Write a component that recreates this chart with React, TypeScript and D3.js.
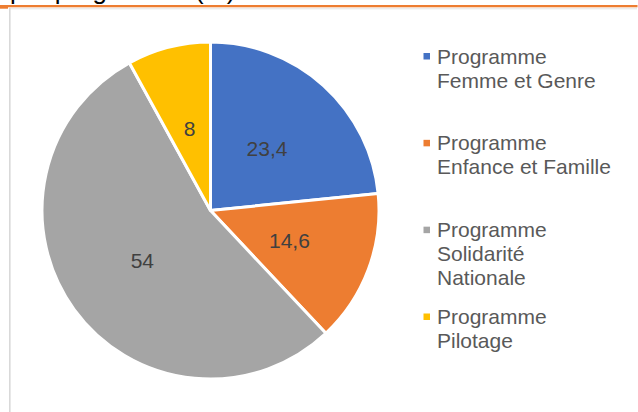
import React from "react";
import * as d3 from "d3";

const programmes = [
  "Programme Femme et Genre",
  "Programme Enfance et Famille",
  "Programme Solidarité Nationale",
  "Programme Pilotage",
];
const legendLines = [
  ["Programme", "Femme et Genre"],
  ["Programme", "Enfance et Famille"],
  ["Programme", "Solidarité", "Nationale"],
  ["Programme", "Pilotage"],
];
const shares = [23.4, 14.6, 54, 8];
const shareLabels = ["23,4", "14,6", "54", "8"];
const colors = ["#4472C4", "#ED7D31", "#A5A5A5", "#FFC000"];

const W = 638;
const H = 412;
const cx = 210.5;
const cy = 210.5;
const R = 168.5;
const font = "'Liberation Sans', Arial, sans-serif";

export default function App() {
  const pie = d3
    .pie<number>()
    .sort(null)
    .value((d) => d);
  const arcs = pie(shares);
  const arc = d3.arc<d3.PieArcDatum<number>>().innerRadius(0).outerRadius(R);

  const legendY = d3.scalePoint<string>().domain(programmes).range([63.5, 324]);
  const lineH = 24;

  return (
    <svg
      width={W}
      height={H}
      style={{ position: "absolute", left: 0, top: 0, background: "#fff" }}
      fontFamily={font}
    >
      {/* title, cut off by the top edge as in the source */}
      <text x={10} y={-1.5} fontSize={26} fill="#000">
        par programme (%)
      </text>
      {/* frame */}
      <rect x={0} y={5} width={637.5} height={2.3} fill="#ED7D31" />
      <rect x={0} y={5} width={8} height={3.7} fill="#ED7D31" />
      <line x1={9} x2={637} y1={8.8} y2={8.8} stroke="#e3e3e3" strokeWidth={1} />
      <line x1={9.8} x2={9.8} y1={8} y2={H} stroke="#d9d9d9" strokeWidth={1.6} />

      <g transform={`translate(${cx},${cy})`}>
        {arcs.map((a, i) => (
          <path key={i} d={arc(a) ?? ""} fill={colors[i]} stroke="#fff" strokeWidth={3} strokeLinejoin="round" />
        ))}
        {arcs.map((a, i) => {
          const [x, y] = arc.centroid(a);
          return (
            <text
              key={i}
              x={x}
              y={y}
              dy="0.36em"
              textAnchor="middle"
              fontSize={21}
              fill="#404040"
            >
              {shareLabels[i]}
            </text>
          );
        })}
      </g>

      <g>
        {programmes.map((p, i) => {
          const y0 = legendY(p) ?? 0;
          return (
            <g key={p}>
              <rect x={423.5} y={y0 - 10.5} width={6.5} height={6.5} fill={colors[i]} />
              <text x={437} y={y0} fontSize={21} fill="#595959">
                {legendLines[i].map((l, j) => (
                  <tspan key={j} x={437} y={y0 + j * lineH}>
                    {l}
                  </tspan>
                ))}
              </text>
            </g>
          );
        })}
      </g>
    </svg>
  );
}
